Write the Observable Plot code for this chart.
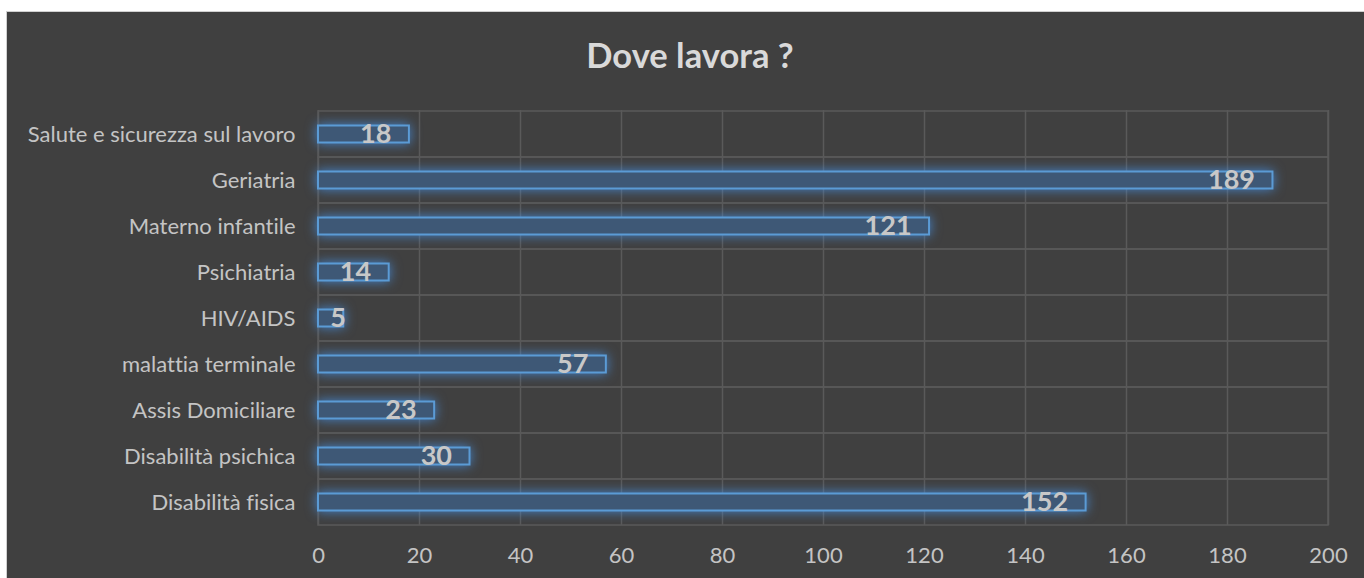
<!DOCTYPE html>
<html>
<head>
<meta charset="utf-8">
<script src="https://cdn.jsdelivr.net/npm/d3@7"></script>
<script src="https://cdn.jsdelivr.net/npm/@observablehq/plot@0.6"></script>
<style>
  html, body { margin: 0; padding: 0; background: #ffffff; width: 1364px; height: 578px; overflow: hidden; }
  #frame { position: absolute; left: 6px; top: 11px; width: 1358px; height: 567px; background: #404040; border-left: 1px solid #d0d0d0; border-top: 1px solid #d0d0d0; box-sizing: border-box; }
  #title { position: absolute; left: 0; top: 38px; width: 1380px; text-align: center; font-family: Lato, "Open Sans", sans-serif; font-weight: bold; font-size: 34.5px; color: #d9d9d9; line-height: 1; }
  #chart { position: absolute; left: 7px; top: 90px; }
  #chart svg text { font-variant-ligatures: none; }
</style>
</head>
<body>
<div id="frame"></div>
<div id="title">Dove lavora ?</div>
<div id="chart"></div>
<script>
const categories = ["Salute e sicurezza sul lavoro", "Geriatria", "Materno infantile", "Psichiatria", "HIV/AIDS", "malattia terminale", "Assis Domiciliare", "Disabilità psichica", "Disabilità fisica"];
const values = [18, 189, 121, 14, 5, 57, 23, 30, 152];
const xTicks = [0, 20, 40, 60, 80, 100, 120, 140, 160, 180, 200];

const data = categories.map((c, i) => ({category: c, value: values[i]}));

const chart = Plot.plot({
  width: 1357,
  height: 488,
  marginLeft: 311,
  marginRight: 36,
  marginTop: 20,
  marginBottom: 53,
  style: {background: "transparent", color: "#c4c4c4", fontFamily: "Lato, 'Open Sans', sans-serif", fontSize: "22px"},
  x: {domain: [0, 200], ticks: xTicks, label: null, tickSize: 0, tickPadding: 22},
  y: {domain: categories, padding: 0, label: null, tickSize: 0, tickPadding: 23},
  marks: [
    Plot.ruleX(xTicks, {stroke: "#5a5a5a", strokeWidth: 1.5}),
    Plot.barX(categories, {x1: 0, x2: 200, y: d => d, fill: "none", stroke: "#5a5a5a", strokeWidth: 1.5}),
    Plot.barX(data, {x: "value", y: "category", fill: "#3e5876", stroke: "#5b9bd5", strokeWidth: 2, insetTop: 14.5, insetBottom: 14.5}),
    Plot.text(data, {x: d => Math.max(d.value, 9), y: "category", text: d => String(d.value), textAnchor: "end", dx: -18, fill: "#c8c8c8", fontWeight: "bold", fontSize: 27})
  ]
});
document.getElementById("chart").appendChild(chart);
const bars = chart.querySelectorAll('g[aria-label="bar"]');
if (bars.length > 1) bars[bars.length - 1].style.filter = "drop-shadow(0 0 6px rgba(70,140,220,0.9))";
</script>
</body>
</html>
